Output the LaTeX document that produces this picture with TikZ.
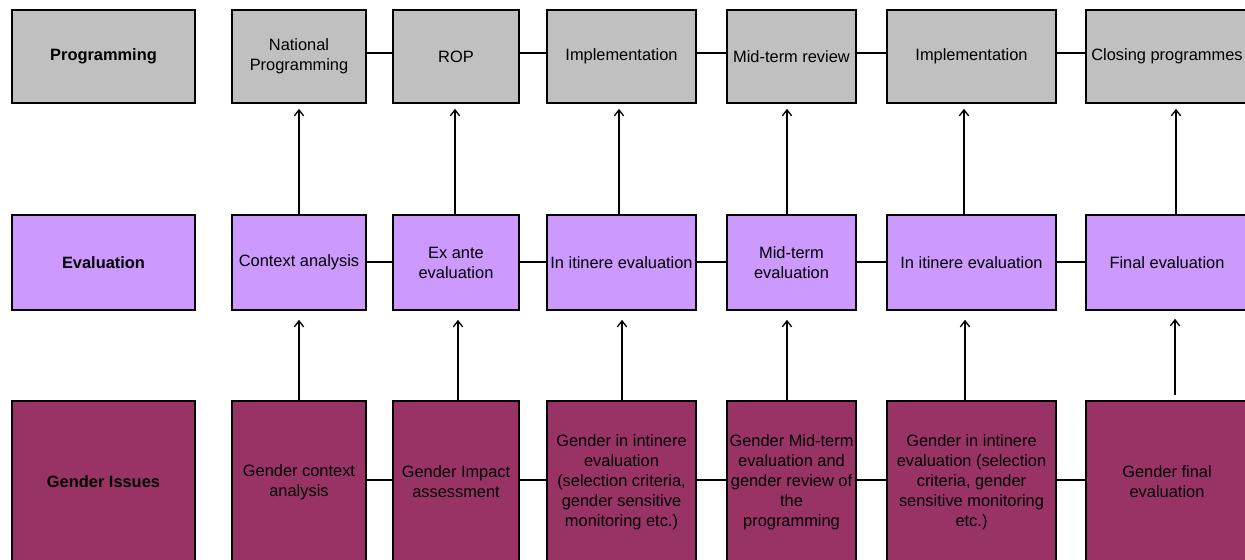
\documentclass[tikz,border=0pt]{standalone}
\usepackage{fontspec}
\setmainfont{Liberation Sans}
\usetikzlibrary{arrows.meta}
\definecolor{progfill}{HTML}{C0C0C0}
\definecolor{evalfill}{HTML}{CC99FF}
\definecolor{gendfill}{HTML}{993366}
\begin{document}
\begin{tikzpicture}[x=0.75pt,y=-0.75pt,
  box/.style={draw=black,line width=1.2pt,inner sep=0pt,align=center,text=black,
    font=\fontsize{12.3pt}{15pt}\selectfont},
  prog/.style={box,fill=progfill,minimum height=93*0.75pt},
  eval/.style={box,fill=evalfill,minimum height=95*0.75pt},
  gend/.style={box,fill=gendfill,minimum height=162*0.75pt},
  lnk/.style={line width=1pt},
  up/.style={line width=1pt,-{Straight Barb[length=4.5pt,width=7pt,line width=1pt]}}
]
\useasboundingbox (0,0) rectangle (1245,560);
\clip (0,0) rectangle (1245,560);
% Row 1: Programming
\node[prog,minimum width=183*0.75pt,font=\fontsize{12.3pt}{15pt}\selectfont\bfseries] (pl) at (103.5,56.5) {Programming};
\node[prog,minimum width=134*0.75pt] (p1) at (299,56.5) {National\\Programming};
\node[prog,minimum width=126*0.75pt] (p2) at (456,56.5) {ROP};
\node[prog,minimum width=149*0.75pt] (p3) at (621.5,56.5) {Implementation};
\node[prog,minimum width=129*0.75pt] (p4) at (791.5,56.5) {Mid-term review};
\node[prog,minimum width=169*0.75pt] (p5) at (971.5,56.5) {Implementation};
\node[prog,minimum width=162*0.75pt] (p6) at (1167,56.5) {Closing programmes};
% Row 2: Evaluation
\node[eval,minimum width=183*0.75pt,font=\fontsize{12.3pt}{15pt}\selectfont\bfseries] (el) at (103.5,262.5) {Evaluation};
\node[eval,minimum width=134*0.75pt] (e1) at (299,262.5) {Context analysis};
\node[eval,minimum width=126*0.75pt] (e2) at (456,262.5) {Ex ante\\evaluation};
\node[eval,minimum width=149*0.75pt] (e3) at (621.5,262.5) {In itinere evaluation};
\node[eval,minimum width=129*0.75pt] (e4) at (791.5,262.5) {Mid-term\\evaluation};
\node[eval,minimum width=169*0.75pt] (e5) at (971.5,262.5) {In itinere evaluation};
\node[eval,minimum width=162*0.75pt] (e6) at (1167,262.5) {Final evaluation};
% Row 3: Gender
\node[gend,minimum width=183*0.75pt,font=\fontsize{12.3pt}{15pt}\selectfont\bfseries] (gl) at (103.5,482) {Gender Issues};
\node[gend,minimum width=134*0.75pt] (g1) at (299,482) {Gender context\\analysis};
\node[gend,minimum width=126*0.75pt] (g2) at (456,482) {Gender Impact\\assessment};
\node[gend,minimum width=149*0.75pt] (g3) at (621.5,482) {Gender in intinere\\evaluation\\(selection criteria,\\gender sensitive\\monitoring etc.)};
\node[gend,minimum width=129*0.75pt] (g4) at (791.5,482) {Gender Mid-term\\evaluation and\\gender review of\\the\\programming};
\node[gend,minimum width=169*0.75pt] (g5) at (971.5,482) {Gender in intinere\\evaluation (selection\\criteria, gender\\sensitive monitoring\\etc.)};
\node[gend,minimum width=162*0.75pt] (g6) at (1167,482) {Gender final\\evaluation};
% horizontal links
\foreach \a/\b in {p1/p2,p2/p3,p3/p4,p4/p5,p5/p6}
  \draw[lnk] (\a.east |- 0,53) -- (\b.west |- 0,53);
\foreach \a/\b in {e1/e2,e2/e3,e3/e4,e4/e5,e5/e6}
  \draw[lnk] (\a.east |- 0,262) -- (\b.west |- 0,262);
\foreach \a/\b in {g1/g2,g2/g3,g3/g4,g4/g5,g5/g6}
  \draw[lnk] (\a.east |- 0,480) -- (\b.west |- 0,480);
% vertical arrows: evaluation -> programming
\foreach \e/\p/\x in {e1/p1/299,e2/p2/455,e3/p3/619,e4/p4/787,e5/p5/964,e6/p6/1176}
  \draw[up] (\e.north -| \x,0) -- ([yshift=-5*0.75pt]\p.south -| \x,0);
% vertical arrows: gender -> evaluation
\draw[up] (g1.north -| 299,0) -- ([yshift=-9*0.75pt]e1.south -| 299,0);
\draw[up] (g2.north -| 458,0) -- ([yshift=-9*0.75pt]e2.south -| 458,0);
\draw[up] (g3.north -| 622,0) -- ([yshift=-9*0.75pt]e3.south -| 622,0);
\draw[up] (g4.north -| 787,0) -- ([yshift=-9*0.75pt]e4.south -| 787,0);
\draw[up] (g5.north -| 965,0) -- ([yshift=-9*0.75pt]e5.south -| 965,0);
\draw[up] ([yshift=5*0.75pt]g6.north -| 1175,0) -- ([yshift=-8*0.75pt]e6.south -| 1175,0);
\end{tikzpicture}
\end{document}
